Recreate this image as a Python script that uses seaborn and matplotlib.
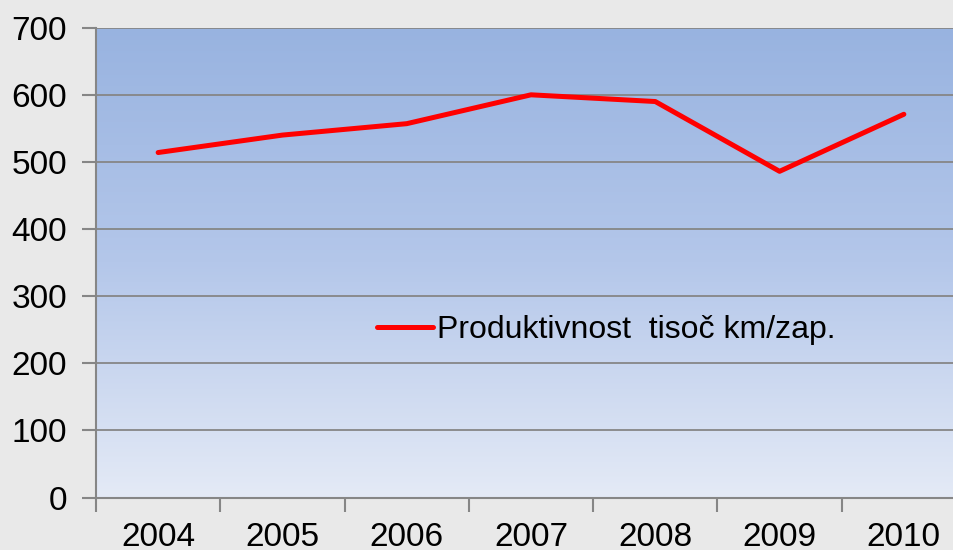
import numpy as np
import pandas as pd
import matplotlib
matplotlib.use('Agg')
import matplotlib.pyplot as plt
from matplotlib.colors import LinearSegmentedColormap
from matplotlib.ticker import FixedLocator, NullFormatter
import seaborn as sns

# data
years = ['2004', '2005', '2006', '2007', '2008', '2009', '2010']
productivity = [514, 540, 557, 600, 590, 486, 571]
series_name = 'Produktivnost  tisoč km/zap.'
y_ticks = [0, 100, 200, 300, 400, 500, 600, 700]

df = pd.DataFrame({'leto': years, 'vrednost': productivity})

sns.set_theme(style='white')
plt.rcParams['font.family'] = ['Liberation Sans', 'DejaVu Sans']
plt.rcParams['text.color'] = 'black'

fig = plt.figure(figsize=(9.54, 5.5), dpi=100)
fig.patch.set_facecolor('#e9e9e9')
ax = fig.add_axes([96 / 954, 52.5 / 550, 870 / 954, 469.8 / 550])

# gradient background of plot area
grad = LinearSegmentedColormap.from_list('bg', ['#e4eaf6', '#b4c7ea', '#98b3e0'])
ax.imshow(np.linspace(0, 1, 256).reshape(-1, 1), cmap=grad, origin='lower',
          aspect='auto', extent=[-0.5, 6.5, 0, 700], zorder=0)

ax.set_ylim(0, 700)
ax.set_xlim(-0.5, 6.5)
for v in y_ticks[1:]:
    ax.axhline(v, color='#868686', lw=1.3, zorder=1)

sns.lineplot(data=df, x='leto', y='vrednost', ax=ax, color='#ff0000',
             lw=3.6, label=series_name, zorder=3, sort=False)

ax.set_xlabel('')
ax.set_ylabel('')
ax.set_yticks(y_ticks)
ax.set_xticks(range(len(years)))
ax.set_xticklabels(years)
ax.xaxis.set_minor_locator(FixedLocator(np.arange(-0.5, 6.0, 1)))
ax.xaxis.set_minor_formatter(NullFormatter())
ax.tick_params(axis='x', which='major', length=0, pad=18, labelsize=24, colors='black')
ax.tick_params(axis='x', which='minor', bottom=True, length=10, width=1.5, color='#868686')
ax.tick_params(axis='y', left=True, length=10, width=1.5, color='#868686',
               pad=11, labelsize=24, labelcolor='black')

for side in ['top', 'right']:
    ax.spines[side].set_visible(False)
for side in ['left', 'bottom']:
    ax.spines[side].set_color('#868686')
    ax.spines[side].set_linewidth(1.5)

leg = ax.legend(loc='center left', bbox_to_anchor=(377 / 954, 1 - 330 / 550),
                bbox_transform=fig.transFigure, frameon=False, fontsize=23,
                handlelength=1.75, handletextpad=0.12, borderpad=0, borderaxespad=0)
for t in leg.get_texts():
    t.set_color('black')

fig.savefig('out.png', dpi=100, facecolor=fig.get_facecolor())
